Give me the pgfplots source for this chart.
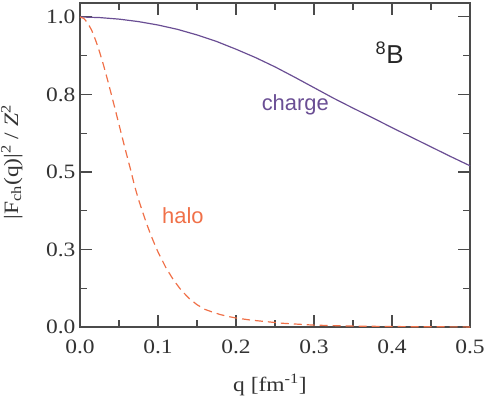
\documentclass[border=0pt]{standalone}
\usepackage{fontspec}
\setmainfont{Liberation Serif}[FakeStretch=1.15]
\newfontfamily\arial{Liberation Sans}
\usepackage{pgfplots}
\pgfplotsset{compat=1.18}
\definecolor{chargec}{RGB}{106,78,148}
\definecolor{haloc}{RGB}{240,112,72}
\definecolor{axc}{RGB}{75,75,75}
\begin{document}
\begin{tikzpicture}
\begin{axis}[
  scale only axis,
  width=390bp, height=324bp,
  xmin=0, xmax=0.5, ymin=0, ymax=1.045,
  xtick={0,0.1,0.2,0.3,0.4,0.5},
  xticklabels={0.0,0.1,0.2,0.3,0.4,0.5},
  ytick={0,0.25,0.5,0.75,1},
  yticklabels={0.0,0.3,0.5,0.8,1.0},
  minor x tick num=1, minor y tick num=1,
  tick align=inside,
  major tick length=12bp, minor tick length=7bp,
  axis line style={axc, line width=1.1pt},
  every tick/.style={axc, line width=1.1pt},
  tick label style={font=\fontsize{20.5}{24}\selectfont, text=black!80},
  /pgf/number format/assume math mode=true,
  xticklabel style={yshift=-9bp},
  yticklabel style={xshift=-1bp},
  xlabel={q [fm\textsuperscript{-1}]},
  ylabel={|F\textsubscript{ch}(q)|\textsuperscript{2} / \textit{Z}\textsuperscript{2}},
  label style={font=\fontsize{20.5}{24}\selectfont, text=black!80},
  xlabel style={at={(axis description cs:0.487,-0.179)}, anchor=center},
  ylabel style={at={(axis description cs:-0.175,0.509)}, anchor=center},
  clip=false,
]
\addplot[chargec, line width=1.2pt] coordinates {
(0.000,1.000) (0.025,0.998) (0.050,0.993) (0.075,0.985) (0.100,0.974)
(0.125,0.960) (0.150,0.942) (0.175,0.921) (0.200,0.896) (0.225,0.869)
(0.250,0.839) (0.275,0.806) (0.300,0.772) (0.325,0.738) (0.350,0.706)
(0.375,0.675) (0.400,0.643) (0.425,0.612) (0.450,0.581) (0.475,0.550)
(0.500,0.520)};
\addplot[haloc, line width=1.2pt, dash pattern=on 8bp off 5bp] coordinates {
(0.000,1.000) (0.005,0.995) (0.010,0.980) (0.015,0.957) (0.020,0.925)
(0.025,0.888) (0.030,0.846) (0.035,0.800) (0.040,0.752) (0.045,0.703)
(0.050,0.653) (0.055,0.603) (0.060,0.554) (0.065,0.506) (0.070,0.455)
(0.075,0.411) (0.080,0.373) (0.085,0.336) (0.090,0.302) (0.095,0.271)
(0.100,0.242) (0.110,0.192) (0.120,0.151) (0.130,0.118) (0.140,0.092)
(0.150,0.072) (0.160,0.057) (0.170,0.048) (0.180,0.040) (0.190,0.034)
(0.200,0.029) (0.220,0.022) (0.240,0.017) (0.260,0.012) (0.280,0.009)
(0.300,0.006) (0.350,0.003) (0.400,0.0015) (0.450,0.0007) (0.500,0.0003)};
\node[text=chargec, font=\arial\fontsize{22}{24}\selectfont] at (axis cs:0.276,0.716) {charge};
\node[text=haloc, font=\arial\fontsize{22}{24}\selectfont] at (axis cs:0.132,0.36) {halo};
\node[text=black!85, font=\arial\fontsize{26}{28}\selectfont] at (axis cs:0.397,0.885) {\textsuperscript{8}B};
\end{axis}
\pgfresetboundingbox
\useasboundingbox (current axis.south west) ++(-80bp,-69bp) rectangle ([shift={(14bp,3bp)}]current axis.north east);
\end{tikzpicture}
\end{document}
